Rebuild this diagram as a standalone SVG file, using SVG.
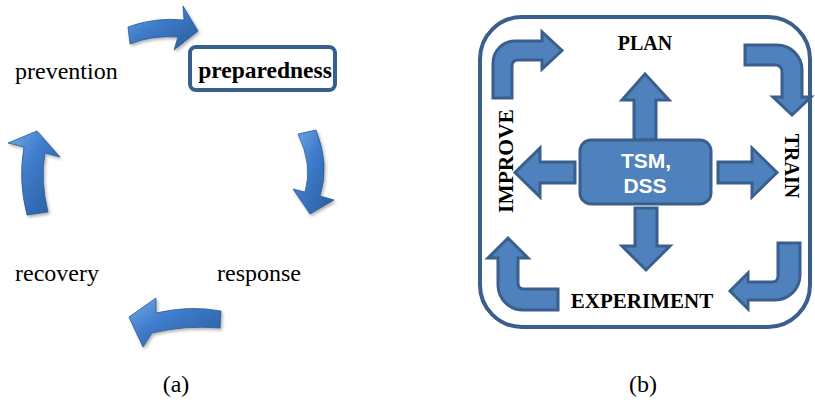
<svg xmlns="http://www.w3.org/2000/svg" width="815" height="400" viewBox="0 0 815 400">
<defs>
<linearGradient id="g3d" x1="0" y1="0" x2="1" y2="1">
<stop offset="0" stop-color="#74aaea"/>
<stop offset="0.4" stop-color="#3f7ccb"/>
<stop offset="1" stop-color="#285a9a"/>
</linearGradient>
<filter id="sh" x="-20%" y="-20%" width="140%" height="140%">
<feDropShadow dx="1.5" dy="2" stdDeviation="1.5" flood-color="#000" flood-opacity="0.3"/>
</filter>
</defs>
<style>
.lbl{font-family:"Liberation Serif","Times New Roman",serif;font-size:24px;fill:#000}
.bl{font-family:"Liberation Serif","Times New Roman",serif;font-weight:bold;fill:#000}
.a3d{fill:url(#g3d);stroke:#2a5a96;stroke-width:0.8;filter:url(#sh)}
.blk{fill:#4f81bd;stroke:#3b5f8d;stroke-width:3;stroke-linejoin:miter}
.frame{fill:none;stroke:#3b5f8d;stroke-width:4}
</style>
<g id="connectors">
<path class="a3d" d="M128,27 Q155,17 184,20 L183,6 L198,31 L174,50 L178,37 Q152,35 130,44 Z"/>
<path class="a3d" d="M298,134 L316,130 Q330,165 320,196 L334,200 L310,214 L293,189 L305,192 Q313,165 298,134 Z"/>
<path class="a3d" d="M221,311 Q190,305 156,313 L156,298 L129,317 L143,347 L152,333 Q185,325 220,328 Z"/>
<path class="a3d" d="M27,215 Q18,180 24,147 L8,143 L37,131 L60,157 L45,153 Q40,180 48,212 Z"/>
<path class="blk" d="M493,98 L493,63 A22,22 0 0 1 515,41 L542,41 L542,32 L562,50.5 L542,69 L542,60 L518,60 Q512,60 512,66 L512,98 Z"/>
<path class="blk" d="M745,45 L777,45 A25,25 0 0 1 802,70 L802,97 L811,97 L792,115 L773,97 L782,97 L782,72 Q782,65 775,65 L745,65 Z"/>
<path class="blk" d="M778,243 L800,243 L800,275 A25,25 0 0 1 775,300 L748,300 L748,309 L730,291 L748,273 L748,282 L772,282 Q778,282 778,276 Z"/>
<path class="blk" d="M558,289 L558,310 L523,310 A25,25 0 0 1 498,285 L498,258 L488,258 L508,238 L528,258 L518,258 L518,283 Q518,289 524,289 Z"/>
<path class="blk" d="M634,140 L634,100 L622,100 L645,74 L669,100 L656,100 L656,140 Z"/>
<path class="blk" d="M635,208 L657,208 L657,246 L670,246 L646,270 L622,246 L635,246 Z"/>
<path class="blk" d="M575,162 L575,183 L540,183 L540,197 L515,172.5 L540,148 L540,162 Z"/>
<path class="blk" d="M718,162 L752,162 L752,148 L777,172.5 L752,197 L752,183 L718,183 Z"/>
</g>
<g id="prevention"><text class="lbl" x="15" y="79">prevention</text></g>
<g id="preparedness">
<rect x="190" y="47" width="145" height="43" rx="6" fill="#fff" stroke="#3b5f8d" stroke-width="4"/>
<text class="bl" x="265" y="78" font-size="23.5" text-anchor="middle">preparedness</text>
</g>
<g id="response"><text class="lbl" x="217" y="281">response</text></g>
<g id="recovery"><text class="lbl" x="15" y="281">recovery</text></g>
<text class="lbl" x="176" y="392" text-anchor="middle">(a)</text>
<text class="lbl" x="643" y="392" text-anchor="middle">(b)</text>
<g id="frame"><rect class="frame" x="480" y="17" width="330" height="310" rx="42"/></g>
<g id="tsm">
<rect x="580" y="140" width="131" height="64" rx="11" fill="#4f81bd" stroke="#3b5f8d" stroke-width="3"/>
<text x="646" y="168" font-family="Liberation Sans, Arial, sans-serif" font-weight="bold" font-size="21" fill="#fff" text-anchor="middle">TSM,</text>
<text x="645" y="193" font-family="Liberation Sans, Arial, sans-serif" font-weight="bold" font-size="21" fill="#fff" text-anchor="middle">DSS</text>
</g>
<g id="plan"><text class="bl" x="645" y="50" font-size="20" text-anchor="middle">PLAN</text></g>
<g id="experiment"><text class="bl" x="642" y="308" font-size="21" text-anchor="middle">EXPERIMENT</text></g>
<g id="improve"><text class="bl" font-size="21.5" text-anchor="middle" transform="translate(513,161) rotate(-90)">IMPROVE</text></g>
<g id="train"><text class="bl" font-size="20" text-anchor="middle" transform="translate(785,166) rotate(90)">TRAIN</text></g>
</svg>
